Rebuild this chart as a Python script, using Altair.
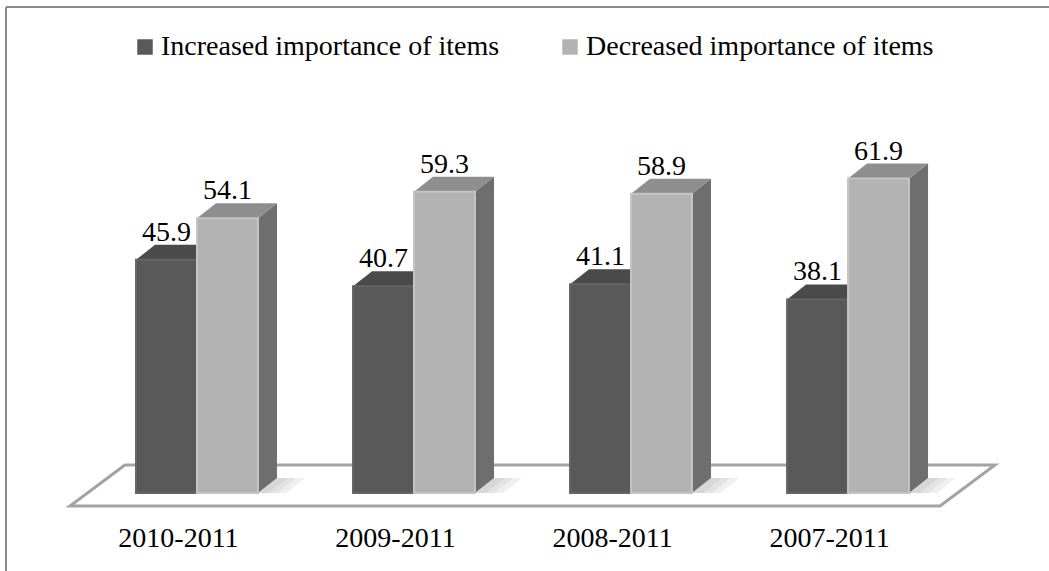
import altair as alt
import pandas as pd

# ---- data -------------------------------------------------------------
categories = ["2010-2011", "2009-2011", "2008-2011", "2007-2011"]
increased = [45.9, 40.7, 41.1, 38.1]
decreased = [54.1, 59.3, 58.9, 61.9]
series_names = ["Increased importance of items", "Decreased importance of items"]

# ---- style ------------------------------------------------------------
FONT = "Liberation Serif"
FRONT = ["#595959", "#b3b3b3"]
EDGE = ["#656565", "#c4c4c4"]
TOP = ["#4a4a4a", "#8e8e8e"]
SIDE = ["#3c3c3c", "#6e6e6e"]
FLOOR_STROKE = "#a3a3a3"
FRAME = "#8c8c8c"

W, H = 1043, 564                 # plot area in pixels
X_DOMAIN = [-0.880, 3.926]       # group index units (one group = 217 px)
Y_DOMAIN = [-15.35, 95.67]       # value units (~5.08 px per unit)
BAR_W = 0.281                    # width of one bar, in group units
DX, DY = 0.0876, 2.95            # extrusion depth: right (groups) and up (values)
SHADOW_STEPS = [0.05, 0.09, 0.13]  # how far each shadow layer reaches past the side face

xs = alt.Scale(domain=X_DOMAIN, nice=False, zero=False)
ys = alt.Scale(domain=Y_DOMAIN, nice=False, zero=False)

# ---- derived tables ---------------------------------------------------
bars = []
for i, cat in enumerate(categories):
    for j, (name, vals) in enumerate(zip(series_names, [increased, decreased])):
        x0 = i + (j - 1) * BAR_W
        bars.append(dict(bar=f"{i}-{j}", cat=cat, series=name, value=vals[i],
                         x0=x0, x1=x0 + BAR_W, xc=x0 + BAR_W / 2, zero=0.0))
bars = pd.DataFrame(bars)

depth = []
for _, b in bars.iterrows():
    for k in (0, 1):
        depth.append(dict(bar=b.bar, series=b.series,
                          side_x=b.x1 + k * DX, lo=k * DY, hi=b.value + k * DY,
                          top_l=b.x0 + k * DX, top_r=b.x1 + k * DX))
depth = pd.DataFrame(depth)

# soft shadow on the floor to the right of each pair, built from a few
# overlapping translucent layers so it fades out
shadow = []
for i in range(len(categories)):
    for s, reach in enumerate(SHADOW_STEPS):
        for k in (0, 1):
            shadow.append(dict(grp=f"{i}-{s}", sy=k * DY,
                               sl=i + BAR_W + k * DX,
                               sr=i + BAR_W + reach + k * DX))
shadow = pd.DataFrame(shadow)

cats = pd.DataFrame({"cat": categories, "gx": list(range(len(categories)))})

floor = pd.DataFrame({
    "fy": [-2.56, 5.51],
    "fl": [-0.585, -0.332],
    "fr": [3.424, 3.677],
})


def color(rng, legend=None):
    return alt.Color("series:N", scale=alt.Scale(domain=series_names, range=rng),
                     legend=legend)


# ---- layers -----------------------------------------------------------
frame = alt.Chart(pd.DataFrame({"k": [0]}))
frame_left = frame.mark_rule(color=FRAME, strokeWidth=2).encode(
    x=alt.value(0), y=alt.value(0), y2=alt.value(H))
frame_top = frame.mark_rule(color=FRAME, strokeWidth=2).encode(
    y=alt.value(0), x=alt.value(0), x2=alt.value(W))

floor_layer = alt.Chart(floor).mark_area(
    orient="horizontal", fill="white", stroke=FLOOR_STROKE, strokeWidth=3
).encode(
    y=alt.Y("fy:Q", scale=ys, axis=None, stack=None),
    x=alt.X("fl:Q", scale=xs, axis=None),
    x2="fr:Q",
)

shadow_layer = alt.Chart(shadow).mark_area(
    orient="horizontal", color="#8a8a8a", opacity=0.13
).encode(
    y=alt.Y("sy:Q", scale=ys, axis=None, stack=None),
    x=alt.X("sl:Q", scale=xs, axis=None),
    x2="sr:Q",
    detail="grp:N",
)

side_layer = alt.Chart(depth).mark_area(orient="vertical").encode(
    x=alt.X("side_x:Q", scale=xs, axis=None),
    y=alt.Y("hi:Q", scale=ys, axis=None, stack=None),
    y2="lo:Q",
    detail="bar:N",
    color=color(SIDE),
)

top_layer = alt.Chart(depth).mark_area(orient="horizontal").encode(
    y=alt.Y("hi:Q", scale=ys, axis=None, stack=None),
    x=alt.X("top_l:Q", scale=xs, axis=None),
    x2="top_r:Q",
    detail="bar:N",
    color=color(TOP),
)

front_layer = alt.Chart(bars).mark_rect(strokeWidth=2).encode(
    x=alt.X("x0:Q", scale=xs, axis=None),
    x2="x1:Q",
    y=alt.Y("value:Q", scale=ys, axis=None),
    y2="zero:Q",
    stroke=alt.Stroke("series:N", scale=alt.Scale(domain=series_names, range=EDGE),
                      legend=None),
    color=color(FRONT, alt.Legend(
        orient="none", legendX=125, legendY=26, direction="horizontal",
        title=None, symbolType="square", symbolSize=240, symbolStrokeWidth=0,
        labelFont=FONT, labelFontSize=28, labelColor="black", labelLimit=0,
        labelOffset=2, columnPadding=56, padding=0,
    )),
)

value_labels = alt.Chart(bars).mark_text(
    font=FONT, fontSize=28, color="black", baseline="alphabetic", dy=-19
).encode(
    x=alt.X("xc:Q", scale=xs, axis=None),
    y=alt.Y("value:Q", scale=ys, axis=None),
    text=alt.Text("value:Q", format=".1f"),
)

cat_labels = alt.Chart(cats).mark_text(
    font=FONT, fontSize=28, color="black", baseline="alphabetic", dx=-18.5
).encode(
    x=alt.X("gx:Q", scale=xs, axis=None),
    y=alt.value(540),
    text="cat:N",
)

chart = alt.layer(
    frame_left, frame_top, floor_layer, shadow_layer, side_layer, top_layer,
    front_layer, value_labels, cat_labels,
).resolve_scale(color="independent", stroke="independent").properties(
    width=W, height=H,
    padding={"left": 6, "top": 7, "right": 0, "bottom": 0},
    autosize="none", background="white",
).configure_view(stroke=None)

chart.save("out.html", embed_options={"renderer": "svg", "actions": False})
